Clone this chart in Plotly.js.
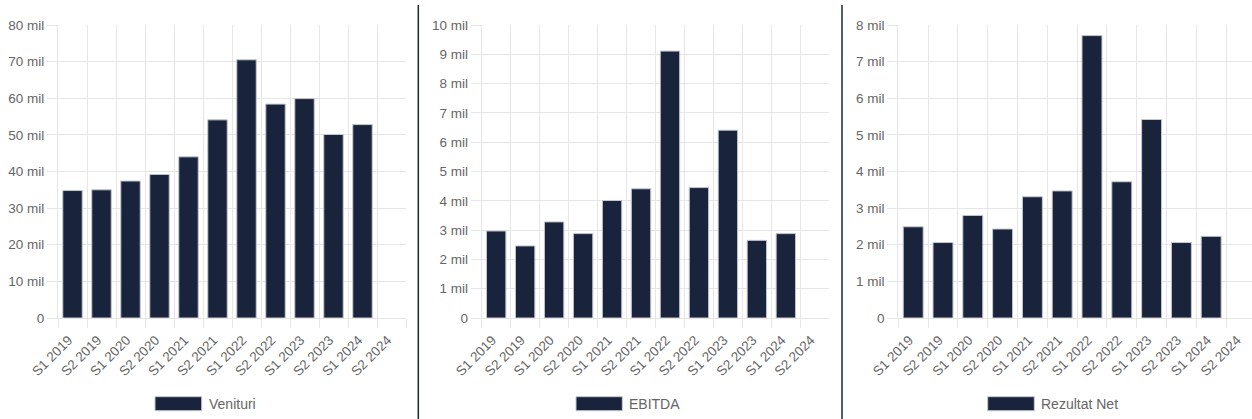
<!DOCTYPE html>
<html>
<head>
<meta charset="utf-8">
<script src="https://cdn.plot.ly/plotly-3.0.1.min.js"></script>
<style>
  html, body { margin: 0; padding: 0; background: #ffffff; }
  #chart { width: 1252px; height: 419px; }
</style>
</head>
<body>
<div id="chart"></div>
<script>
// ---- Data (values in millions) ----
const categories = ['S1 2019','S2 2019','S1 2020','S2 2020','S1 2021','S2 2021','S1 2022','S2 2022','S1 2023','S2 2023','S1 2024','S2 2024'];
const venituri   = [34.8, 35.0, 37.4, 39.2, 44.0, 54.1, 70.5, 58.4, 59.9, 50.1, 52.8, null];
const ebitda     = [2.97, 2.46, 3.28, 2.88, 4.01, 4.41, 9.11, 4.45, 6.41, 2.65, 2.88, null];
const rezultat   = [2.49, 2.06, 2.80, 2.43, 3.31, 3.47, 7.71, 3.72, 5.42, 2.06, 2.23, null];
const seriesNames = ['Venituri', 'EBITDA', 'Rezultat Net'];

const yTicks1 = [0, 10, 20, 30, 40, 50, 60, 70, 80];
const yLabels1 = ['0', '10 mil', '20 mil', '30 mil', '40 mil', '50 mil', '60 mil', '70 mil', '80 mil'];
const yTicks2 = [0, 1, 2, 3, 4, 5, 6, 7, 8, 9, 10];
const yLabels2 = ['0', '1 mil', '2 mil', '3 mil', '4 mil', '5 mil', '6 mil', '7 mil', '8 mil', '9 mil', '10 mil'];
const yTicks3 = [0, 1, 2, 3, 4, 5, 6, 7, 8];
const yLabels3 = ['0', '1 mil', '2 mil', '3 mil', '4 mil', '5 mil', '6 mil', '7 mil', '8 mil'];

// ---- Style ----
const W = 1252, H = 419;
const BAR = '#19233c';
const BAR_EDGE = '#c4c7cf';
const GRID = '#e6e6e6';
const TXT = '#666666';
const FONT = '"Liberation Sans", Arial, Helvetica, sans-serif';
const FS = 13.5;

const px = x => x / W;
const py = y => (H - y) / H;
const yDom = [py(318), py(25)];

function bar(y, name, xa, ya) {
  return {
    type: 'bar', x: categories, y: y, name: name,
    xaxis: xa, yaxis: ya,
    marker: { color: BAR, line: { color: BAR_EDGE, width: 1 } },
    showlegend: false, hoverinfo: 'x+y'
  };
}

const traces = [
  bar(venituri, seriesNames[0], 'x', 'y'),
  bar(ebitda, seriesNames[1], 'x2', 'y2'),
  bar(rezultat, seriesNames[2], 'x3', 'y3')
];

function xAxis(dom, anchor, range) {
  return {
    type: 'category', categoryorder: 'array', categoryarray: categories,
    domain: dom, anchor: anchor, range: range,
    tickson: 'boundaries', ticks: 'outside', ticklen: 9, tickcolor: GRID, tickwidth: 1,
    showgrid: true, gridcolor: GRID, gridwidth: 1,
    showline: true, linecolor: GRID, linewidth: 1,
    tickangle: -45, tickfont: { family: FONT, size: FS, color: TXT },
    ticklabelstandoff: 8, ticklabelshift: -4,
    fixedrange: true, automargin: false
  };
}
function yAxis(anchor, tv, tt, max) {
  return {
    domain: yDom, anchor: anchor, range: [0, max],
    tickmode: 'array', tickvals: tv, ticktext: tt,
    ticks: 'outside', ticklen: 10, tickcolor: GRID, tickwidth: 1,
    showgrid: true, gridcolor: GRID, gridwidth: 1,
    zeroline: false,
    showline: true, linecolor: GRID, linewidth: 1,
    tickfont: { family: FONT, size: FS, color: TXT },
    fixedrange: true, automargin: false
  };
}

// legend swatches + labels (one per panel)
const legendBoxes = [[155, 201.7], [576, 622.3], [987.7, 1034.3]];
const shapes = [];
const annotations = [];
legendBoxes.forEach((b, i) => {
  shapes.push({ type: 'rect', xref: 'paper', yref: 'paper',
    x0: px(b[0]), x1: px(b[1]), y0: py(410.7), y1: py(396.7),
    fillcolor: BAR, line: { color: BAR_EDGE, width: 1 } });
  annotations.push({ xref: 'paper', yref: 'paper', x: px(b[1] + 5), y: py(403.7),
    xanchor: 'left', yanchor: 'middle', showarrow: false, text: seriesNames[i],
    font: { family: FONT, size: 14, color: TXT } });
});
// panel separators
[418.3, 842].forEach(x => {
  shapes.push({ type: 'line', xref: 'paper', yref: 'paper',
    x0: px(x), x1: px(x), y0: 0, y1: py(5),
    line: { color: '#1b2640', width: 1.5 } });
});

const layout = {
  width: W, height: H,
  margin: { l: 0, r: 0, t: 0, b: 0, pad: 0 },
  paper_bgcolor: '#ffffff', plot_bgcolor: '#ffffff',
  bargap: 0.33,
  showlegend: false,
  font: { family: FONT, color: TXT },
  xaxis:  xAxis([px(58), px(406)], 'y', [-0.5, 11.5]),
  yaxis:  yAxis('x', yTicks1, yLabels1, 80),
  xaxis2: xAxis([px(481.7), px(829.3)], 'y2', [-0.5, 11.5]),
  yaxis2: yAxis('x2', yTicks2, yLabels2, 10),
  xaxis3: xAxis([px(898.3), 1], 'y3', [-0.5, 11.37]),
  yaxis3: yAxis('x3', yTicks3, yLabels3, 8),
  shapes: shapes,
  annotations: annotations
};

Plotly.newPlot('chart', traces, layout, { displayModeBar: false, staticPlot: true });
</script>
</body>
</html>
